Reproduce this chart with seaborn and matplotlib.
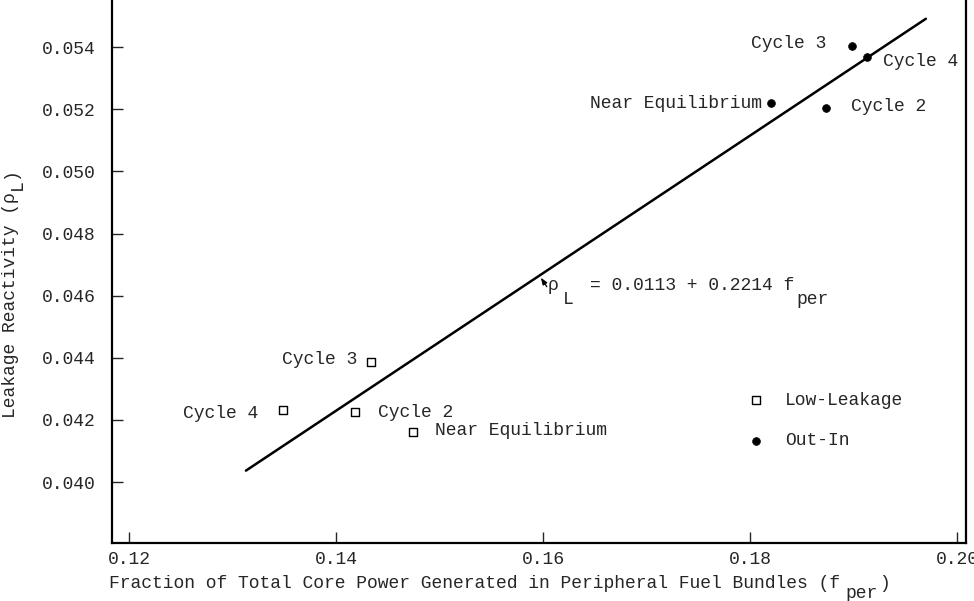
import matplotlib
matplotlib.use("Agg")
import matplotlib.pyplot as plt
import seaborn as sns
import pandas as pd

# low-leakage loading patterns (open squares)
ll_labels = ["Cycle 3", "Cycle 4", "Cycle 2", "Near Equilibrium"]
ll_fper = [0.1434, 0.1349, 0.1418, 0.1474]
ll_rho = [0.04386, 0.04231, 0.04225, 0.04160]

# out-in loading patterns (filled dots)
oi_labels = ["Cycle 3", "Cycle 4", "Near Equilibrium", "Cycle 2"]
oi_fper = [0.1899, 0.1913, 0.1820, 0.1874]
oi_rho = [0.05404, 0.05369, 0.05220, 0.05204]

# fitted line  rho_L = 0.0113 + 0.2214 f_per
fit_a = 0.0113
fit_b = 0.2214
fit_x = [0.1313, 0.1970]

x_ticks = [0.12, 0.14, 0.16, 0.18, 0.20]
y_ticks = [0.040, 0.042, 0.044, 0.046, 0.048, 0.050, 0.052, 0.054]

sns.set_style("ticks")
plt.rcParams["font.family"] = ["Liberation Mono", "DejaVu Sans Mono"]
FS = 13
CW = 0.6 * FS          # monospace advance, points
PX = 0.72              # one pixel in points at dpi 100

fig, ax = plt.subplots(figsize=(9.74, 6.01), dpi=100)
fig.subplots_adjust(left=0.115, right=0.992, bottom=0.097, top=1.0)

ll = pd.DataFrame({"fper": ll_fper, "rho": ll_rho, "label": ll_labels})
oi = pd.DataFrame({"fper": oi_fper, "rho": oi_rho, "label": oi_labels})
fit = pd.DataFrame({"fper": fit_x})
fit["rho"] = fit_a + fit_b * fit["fper"]

sns.lineplot(data=fit, x="fper", y="rho", color="black", linewidth=1.8, ax=ax)
sns.scatterplot(data=ll, x="fper", y="rho", marker="s", s=36, facecolor="white",
                edgecolor="black", linewidth=1.0, label="Low-Leakage", ax=ax, zorder=3)
sns.scatterplot(data=oi, x="fper", y="rho", marker="o", s=32, color="black",
                edgecolor="black", label="Out-In", ax=ax, zorder=3)

# point labels: (dx, dy) in pixels, alignment
ll_offsets = [(-14, 3, "right"), (-25, -3, "right"), (23, 0, "left"), (22, 2, "left")]
oi_offsets = [(-26, 2, "right"), (16, -5, "left"), (-9, 0, "right"), (25, 2, "left")]
for df, offs in [(ll, ll_offsets), (oi, oi_offsets)]:
    for (_, r), (dx, dy, ha) in zip(df.iterrows(), offs):
        ax.annotate(r["label"], (r["fper"], r["rho"]), xytext=(dx * PX, dy * PX),
                    textcoords="offset points", ha=ha, va="center", fontsize=FS)


def put(txt, xy, dx, dy, coords="data", **kw):
    ax.annotate(txt, xy, xycoords=coords, xytext=(dx, dy), textcoords="offset points",
                fontsize=FS, annotation_clip=False, **kw)


# equation with small arrow pointing at the line
tip_x = 0.1598
tip = (tip_x, fit_a + fit_b * tip_x - 0.0001)
ax.annotate("", xy=tip, xytext=(6 * PX, -9 * PX), textcoords="offset points",
            arrowprops=dict(arrowstyle="-|>,head_length=0.4,head_width=0.15",
                            color="black", lw=0.9, shrinkA=0, shrinkB=0))
eq_x0 = 7 * PX
eq_y0 = -8 * PX
put("\u03c1", tip, eq_x0, eq_y0, ha="left", va="center")
put("L", tip, eq_x0 + 1.4 * CW, eq_y0 - 14 * PX, ha="left", va="center")
put("= 0.0113 + 0.2214 f", tip, eq_x0 + 3.9 * CW, eq_y0, ha="left", va="center")
put("per", tip, eq_x0 + 22.9 * CW, eq_y0 - 14 * PX, ha="left", va="center")

ax.set_xlim(0.11836, 0.2009)
ax.set_ylim(0.03805, 0.05552)
ax.set_xticks(x_ticks)
ax.set_xticklabels([f"{v:.2f}" for v in x_ticks])
ax.set_yticks(y_ticks)
ax.set_yticklabels([f"{v:.3f}" for v in y_ticks])
ax.tick_params(axis="both", direction="in", length=8, width=1.0, labelsize=FS)
ax.tick_params(axis="y", pad=12)
ax.tick_params(axis="x", pad=6)

for side in ["left", "bottom", "right"]:
    ax.spines[side].set_linewidth(1.6)
    ax.spines[side].set_color("black")
ax.spines["top"].set_visible(False)

# x label with lowered subscript
xl_pos = (-0.004, -0.060)
ax.set_xlabel("Fraction of Total Core Power Generated in Peripheral Fuel Bundles (f",
              fontsize=FS, ha="left", va="top")
ax.xaxis.set_label_coords(*xl_pos)
put("per", xl_pos, 68 * CW, -10 * PX, coords="axes fraction", ha="left", va="top")
put(")", xl_pos, 71.1 * CW, 0, coords="axes fraction", ha="left", va="top")

# y label with lowered subscript (rotated)
yl_pos = (-0.1135, 0.229)
ax.set_ylabel("Leakage Reactivity (\u03c1", fontsize=FS, ha="left", va="baseline",
              rotation=90, rotation_mode="anchor")
ax.yaxis.set_label_coords(*yl_pos)
put("L", yl_pos, 7 * PX, 21.05 * CW, coords="axes fraction", ha="left", va="baseline",
    rotation=90, rotation_mode="anchor")
put(")", yl_pos, 0, 22.1 * CW, coords="axes fraction", ha="left", va="baseline",
    rotation=90, rotation_mode="anchor")

ax.legend(loc="center left", bbox_to_anchor=(0.7436, 0.225), frameon=False, fontsize=FS,
          handlelength=1.0, handletextpad=1.1, labelspacing=1.3, borderpad=0,
          borderaxespad=0)

fig.savefig("out.png", dpi=100)
